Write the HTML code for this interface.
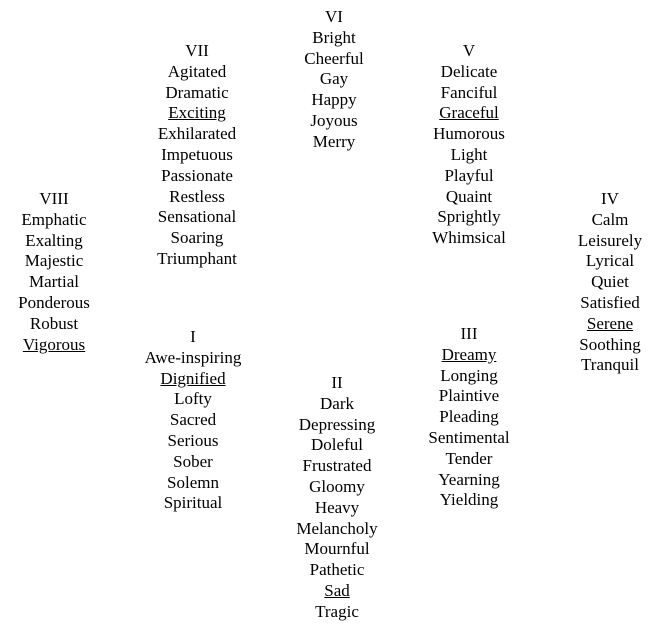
<!DOCTYPE html>
<html><head><meta charset="utf-8"><style>
body{margin:0;width:663px;height:628px;background:#fff;position:relative;overflow:hidden}
.c{position:absolute;width:160px;margin-left:-80px;text-align:center;font-family:"Liberation Serif",serif;font-size:17px;line-height:20.8px;color:#000}
u{text-decoration:underline}
</style></head><body>
<div class="c" style="left:334px;top:7px">VI<br>Bright<br>Cheerful<br>Gay<br>Happy<br>Joyous<br>Merry</div>
<div class="c" style="left:197px;top:41px">VII<br>Agitated<br>Dramatic<br><u>Exciting</u><br>Exhilarated<br>Impetuous<br>Passionate<br>Restless<br>Sensational<br>Soaring<br>Triumphant</div>
<div class="c" style="left:469px;top:41px">V<br>Delicate<br>Fanciful<br><u>Graceful</u><br>Humorous<br>Light<br>Playful<br>Quaint<br>Sprightly<br>Whimsical</div>
<div class="c" style="left:54px;top:189px">VIII<br>Emphatic<br>Exalting<br>Majestic<br>Martial<br>Ponderous<br>Robust<br><u>Vigorous</u></div>
<div class="c" style="left:610px;top:189px">IV<br>Calm<br>Leisurely<br>Lyrical<br>Quiet<br>Satisfied<br><u>Serene</u><br>Soothing<br>Tranquil</div>
<div class="c" style="left:193px;top:327px">I<br>Awe-inspiring<br><u>Dignified</u><br>Lofty<br>Sacred<br>Serious<br>Sober<br>Solemn<br>Spiritual</div>
<div class="c" style="left:469px;top:324px">III<br><u>Dreamy</u><br>Longing<br>Plaintive<br>Pleading<br>Sentimental<br>Tender<br>Yearning<br>Yielding</div>
<div class="c" style="left:337px;top:373px">II<br>Dark<br>Depressing<br>Doleful<br>Frustrated<br>Gloomy<br>Heavy<br>Melancholy<br>Mournful<br>Pathetic<br><u>Sad</u><br>Tragic</div>
</body></html>
